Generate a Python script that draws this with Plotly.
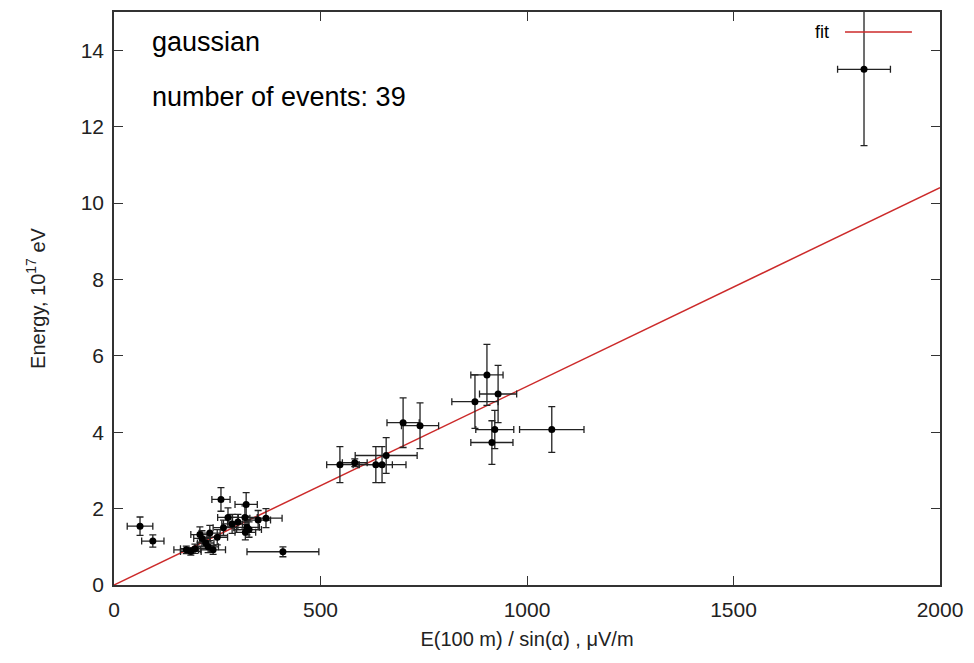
import plotly.graph_objects as go

# Data
x_vals = [1816, 1060, 903, 930, 874, 922, 915, 700, 741, 659, 649, 634, 547, 583,
          63, 94, 409, 259, 320, 368, 276, 317, 349, 286, 322, 327, 318, 232, 208,
          213, 222, 228, 196, 186, 240, 265, 300, 175, 250]
y_vals = [13.5, 4.07, 5.5, 5.0, 4.8, 4.07, 3.73, 4.25, 4.17, 3.39, 3.15, 3.15, 3.15, 3.2,
          1.54, 1.15, 0.87, 2.24, 2.11, 1.75, 1.77, 1.77, 1.70, 1.60, 1.51, 1.45, 1.38, 1.36, 1.32,
          1.22, 1.10, 1.00, 0.95, 0.88, 0.92, 1.50, 1.65, 0.92, 1.25]
x_err = [64, 78, 39, 45, 56, 46, 51, 39, 45, 75, 58, 40, 32, 30,
         31, 27, 87, 22, 27, 39, 25, 30, 30, 25, 30, 30, 25, 25, 22,
         20, 20, 25, 35, 25, 30, 25, 25, 30, 25]
y_err = [2.0, 0.6, 0.8, 0.75, 0.7, 0.5, 0.57, 0.65, 0.6, 0.47, 0.47, 0.47, 0.47, 0.1,
         0.24, 0.16, 0.13, 0.31, 0.31, 0.25, 0.25, 0.3, 0.25, 0.25, 0.2, 0.2, 0.2, 0.2, 0.2,
         0.2, 0.15, 0.15, 0.12, 0.1, 0.12, 0.2, 0.2, 0.1, 0.2]
fit_x = [0, 2000]
fit_slope = 0.0052
fit_y = [fit_slope * v for v in fit_x]

x_ticks = [0, 500, 1000, 1500, 2000]
y_ticks = [0, 2, 4, 6, 8, 10, 12, 14]

font_family = "Liberation Sans, Arial, sans-serif"

fig = go.Figure()
fig.add_trace(go.Scatter(
    x=fit_x, y=fit_y, mode="lines", name="fit",
    line=dict(color="#cc2a2a", width=1.5), showlegend=False,
))
fig.add_trace(go.Scatter(
    x=x_vals, y=y_vals, mode="markers", name="data",
    marker=dict(color="black", size=7),
    error_x=dict(type="data", array=x_err, color="#222222", thickness=1.3, width=3.5),
    error_y=dict(type="data", array=y_err, color="#222222", thickness=1.3, width=3.5),
    showlegend=False,
))

axis_common = dict(
    showline=True, linecolor="#333333", linewidth=1.5, mirror="ticks",
    ticks="inside", ticklen=9, tickcolor="#333333", tickwidth=1,
    showgrid=False, zeroline=False,
    tickfont=dict(size=21, color="#222222", family=font_family),
)

fig.update_layout(
    width=974, height=663,
    margin=dict(l=106, r=42, t=2, b=86),
    paper_bgcolor="white", plot_bgcolor="white",
    font=dict(family=font_family, color="#222222"),
    xaxis=dict(range=[0, 2000], tickvals=x_ticks, ticklabelstandoff=5,
               title=dict(text="E(100 m) / sin(α) , μV/m", font=dict(size=20), standoff=12),
               **axis_common),
    yaxis=dict(range=[0, 15], tickvals=y_ticks, ticklabelstandoff=4,
               title=dict(text="Energy, 10<sup>17</sup> eV", font=dict(size=20), standoff=30),
               **axis_common),
    annotations=[
        dict(text="gaussian", xref="paper", yref="paper", x=0.0436, y=0.948,
             xanchor="left", yanchor="middle", showarrow=False,
             font=dict(size=27, color="black")),
        dict(text="number of events: 39", xref="paper", yref="paper", x=0.0436, y=0.852,
             xanchor="left", yanchor="middle", showarrow=False,
             font=dict(size=27, color="black")),
        dict(text="fit", xref="paper", yref="paper", x=0.868, y=0.965,
             xanchor="right", yanchor="middle", showarrow=False,
             font=dict(size=18, color="black")),
    ],
    shapes=[
        dict(type="line", xref="paper", yref="paper", x0=0.885, x1=0.966, y0=0.965, y1=0.965,
             line=dict(color="#cc2a2a", width=1.5)),
    ],
)

fig.write_html("out.html")
